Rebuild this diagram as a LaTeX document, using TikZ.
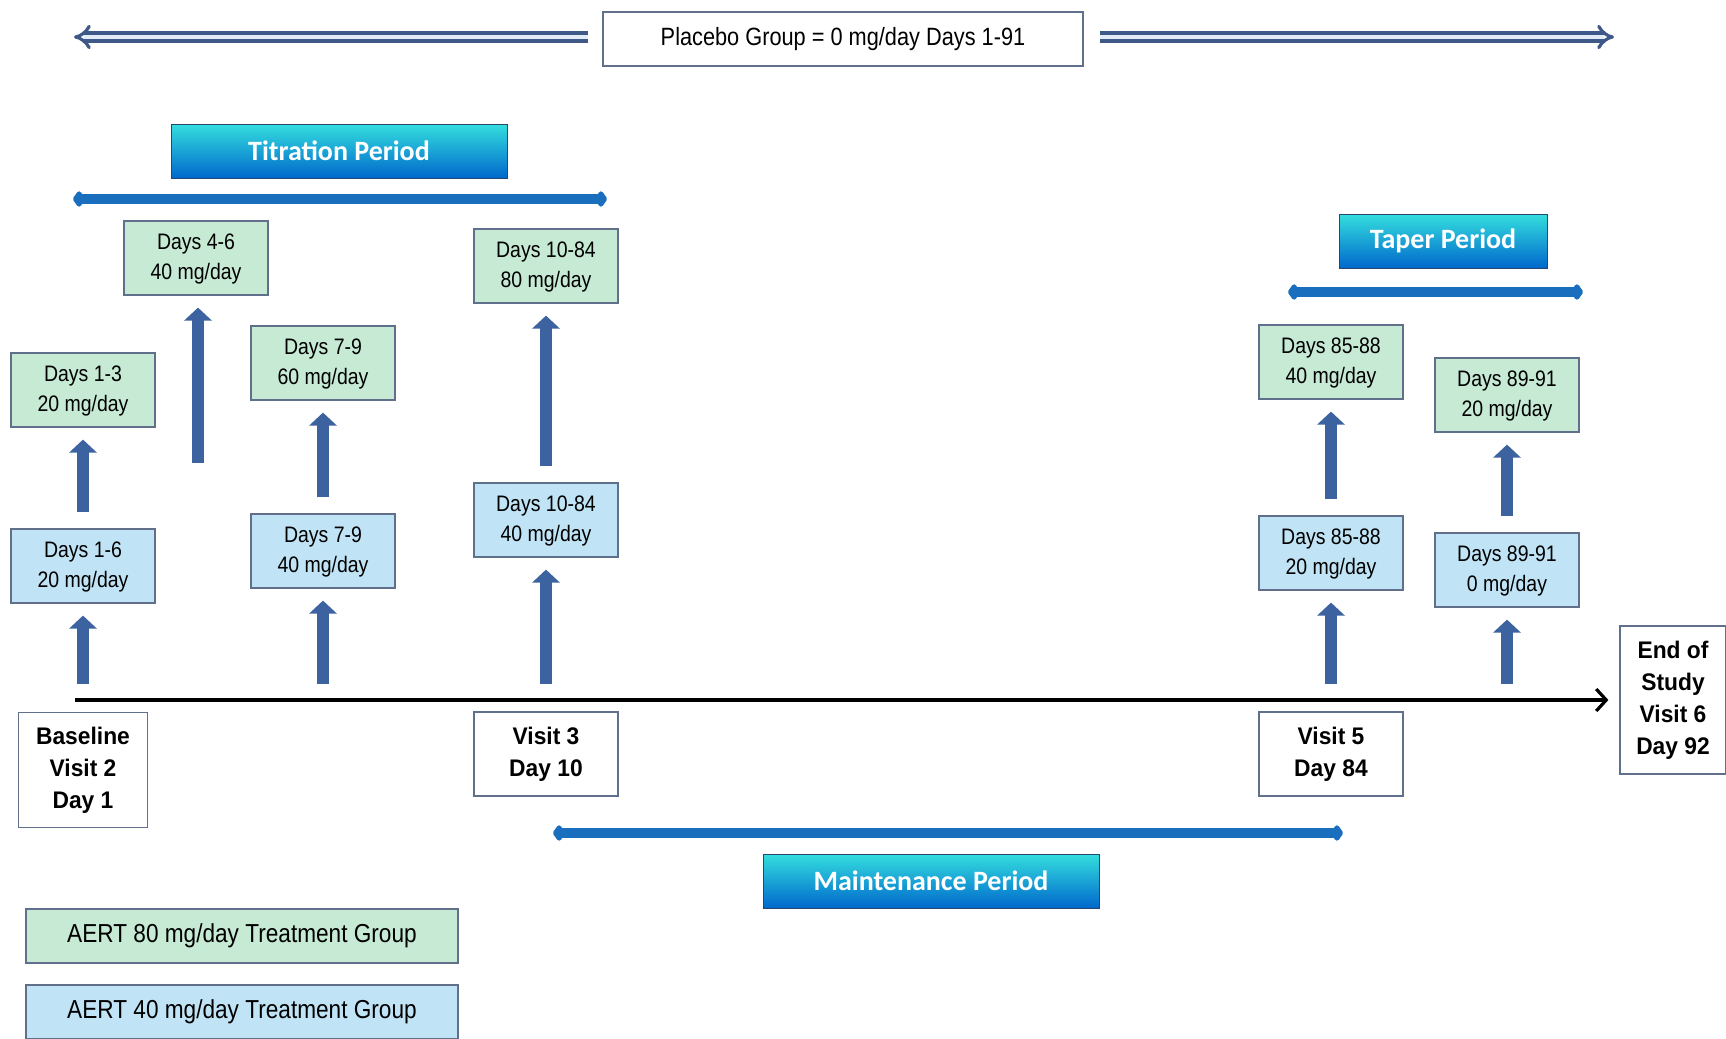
\documentclass[tikz,border=0pt]{standalone}
\usepackage{fontspec}
\setmainfont{Liberation Sans}[FakeStretch=0.87]
\newfontfamily\visitfont{Liberation Sans}[FakeStretch=0.95]
\newfontfamily\bannerfont{Carlito}
\usepackage{tikz}
\usetikzlibrary{arrows.meta,positioning,backgrounds,calc}
\definecolor{doseGreen}{RGB}{198,234,212}
\definecolor{doseBlue}{RGB}{192,228,246}
\definecolor{boxLine}{RGB}{96,112,138}
\definecolor{arrowBlue}{RGB}{60,98,160}
\definecolor{barBlue}{RGB}{26,110,190}
\definecolor{bannerTop}{RGB}{52,222,222}
\definecolor{bannerBot}{RGB}{0,104,204}
\definecolor{bannerEdge}{RGB}{40,70,110}
\definecolor{spanLine}{RGB}{62,88,136}
\definecolor{spanFill}{RGB}{226,236,248}

\begin{document}
\begin{tikzpicture}[x=0.5pt, y=0.5pt, semithick,
     dose/.style={draw=boxLine, line width=0.6pt, minimum width=72pt, minimum height=37pt, inner sep=0pt,
       font=\fontsize{11.2}{15}\selectfont},
     dose80/.style={dose, fill=doseGreen},
     dose40/.style={dose, fill=doseBlue},
     visit/.style={draw=boxLine, line width=0.6pt, fill=white, inner sep=0pt,
       font=\visitfont\bfseries\fontsize{12}{16}\selectfont},
     banner/.style={draw=bannerEdge, line width=0.5pt, top color=bannerTop, bottom color=bannerBot, text=white,
       minimum height=27pt, font=\bannerfont\bfseries\fontsize{14}{16}\selectfont},
     up/.style={-{Triangle[length=6.5pt,width=13.5pt]}, line width=6pt, draw=arrowBlue, shorten <=8pt, shorten >=6pt},
     period/.style={{Kite[length=6pt,width=10pt,inset=2.5pt,round]}-{Kite[length=6pt,width=10pt,inset=2.5pt,round]},
       line width=5pt, draw=barBlue},
     span/.style={-{Implies}, line width=1.6pt, draw=spanLine, double=spanFill, double distance=2.4pt},
     timeline/.style={-{Straight Barb[length=5pt,width=11pt]}, line width=1.6pt, shorten >=5.5pt}]
    \useasboundingbox (0,0) rectangle (1726,-1039);

    % placebo group across the whole study
    \node[draw=boxLine, line width=0.6pt, minimum width=240pt, minimum height=27pt, font=\fontsize{12.5}{15}\selectfont] (placebo) at (843,-39) {Placebo Group = 0 mg/day Days 1-91};
    \coordinate (pl) at (74,-37);
    \coordinate (pr) at (1614,-37);
    \path (placebo.west |- pl) edge[span, shorten <=7pt] (pl);
    \path (placebo.east |- pr) edge[span, shorten <=8pt] (pr);

    % periods
    \node[banner, minimum width=168pt] (titr) at (339,-151) {Titration Period};
    \node[banner, minimum width=104pt] (taper) at (1443,-241) {Taper Period};
    \node[banner, minimum width=168pt] (maint) at (931,-881) {Maintenance Period};
    \coordinate (titrl) at (73,-199);
    \coordinate (titrr) at (607,-199);
    \coordinate (taperl) at (1288,-292);
    \coordinate (taperr) at (1583,-292);
    \coordinate (maintl) at (553,-833);
    \coordinate (maintr) at (1343,-833);
    \draw[period] (titrl) -- (titrr);
    \draw[period] (taperl) -- (taperr);
    \draw[period] (maintl) -- (maintr);

    % doses
    \node[dose80] (d13) at (83,-390) {\begin{tabular}{c} Days 1-3 \\ 20 mg/day \end{tabular}};
    \node[dose80] (d46) at (196,-258) {\begin{tabular}{c} Days 4-6 \\ 40 mg/day \end{tabular}};
    \node[dose80] (d79h) at (323,-363) {\begin{tabular}{c} Days 7-9 \\ 60 mg/day \end{tabular}};
    \node[dose80] (d1084h) at (546,-266) {\begin{tabular}{c} Days 10-84 \\ 80 mg/day \end{tabular}};
    \node[dose80] (d8588h) at (1331,-362) {\begin{tabular}{c} Days 85-88 \\ 40 mg/day \end{tabular}};
    \node[dose80] (d8991h) at (1507,-395) {\begin{tabular}{c} Days 89-91 \\ 20 mg/day \end{tabular}};
    \node[dose40] (d16) at (83,-566) {\begin{tabular}{c} Days 1-6 \\ 20 mg/day \end{tabular}};
    \node[dose40] (d79l) at (323,-551) {\begin{tabular}{c} Days 7-9 \\ 40 mg/day \end{tabular}};
    \node[dose40] (d1084l) at (546,-520) {\begin{tabular}{c} Days 10-84 \\ 40 mg/day \end{tabular}};
    \node[dose40] (d8588l) at (1331,-553) {\begin{tabular}{c} Days 85-88 \\ 20 mg/day \end{tabular}};
    \node[dose40] (d8991l) at (1507,-570) {\begin{tabular}{c} Days 89-91 \\ 0 mg/day \end{tabular}};

    % visits
    \node[visit, minimum width=64.5pt, minimum height=57.5pt] (base) at (83,-770) {\begin{tabular}{c} Baseline \\ Visit 2 \\ Day 1 \end{tabular}};
    \node[visit, minimum width=72pt, minimum height=42pt] (v3) at (546,-754) {\begin{tabular}{c} Visit 3 \\ Day 10 \end{tabular}};
    \node[visit, minimum width=72pt, minimum height=42pt] (v5) at (1331,-754) {\begin{tabular}{c} Visit 5 \\ Day 84 \end{tabular}};
    \node[visit, minimum width=53pt, minimum height=74pt] (eos) at (1673,-700) {\begin{tabular}{c} End of \\ Study \\ Visit 6 \\ Day 92 \end{tabular}};

    \coordinate (tl) at (75,-700);
    \draw[timeline] (tl) -- (eos);

    % dose steps
    \coordinate (t1) at (83,-700);
    \coordinate (t7) at (323,-700);
    \coordinate (t10) at (546,-700);
    \coordinate (t85) at (1331,-700);
    \coordinate (t89) at (1507,-700);
    \coordinate (s4) at (198,-479);
    \path (t1) edge[up] (d16);
    \path (d16) edge[up] (d13);
    \path (s4) edge[up] (s4 |- d46.south);
    \path (t7) edge[up] (d79l);
    \path (d79l) edge[up] (d79h);
    \path (t10) edge[up] (d1084l);
    \path (d1084l) edge[up] (d1084h);
    \path (t85) edge[up] (d8588l);
    \path (d8588l) edge[up] (d8588h);
    \path (t89) edge[up] (d8991l);
    \path (d8991l) edge[up] (d8991h);

    % legend
    \node[dose80, minimum width=216pt, minimum height=27pt, font=\fontsize{13}{15}\selectfont] (leg80) at (242,-936) {AERT 80 mg/day Treatment Group};
    \node[dose40, minimum width=216pt, minimum height=27pt, font=\fontsize{13}{15}\selectfont] (leg40) at (242,-1012) {AERT 40 mg/day Treatment Group};
   \end{tikzpicture}
\end{document}
